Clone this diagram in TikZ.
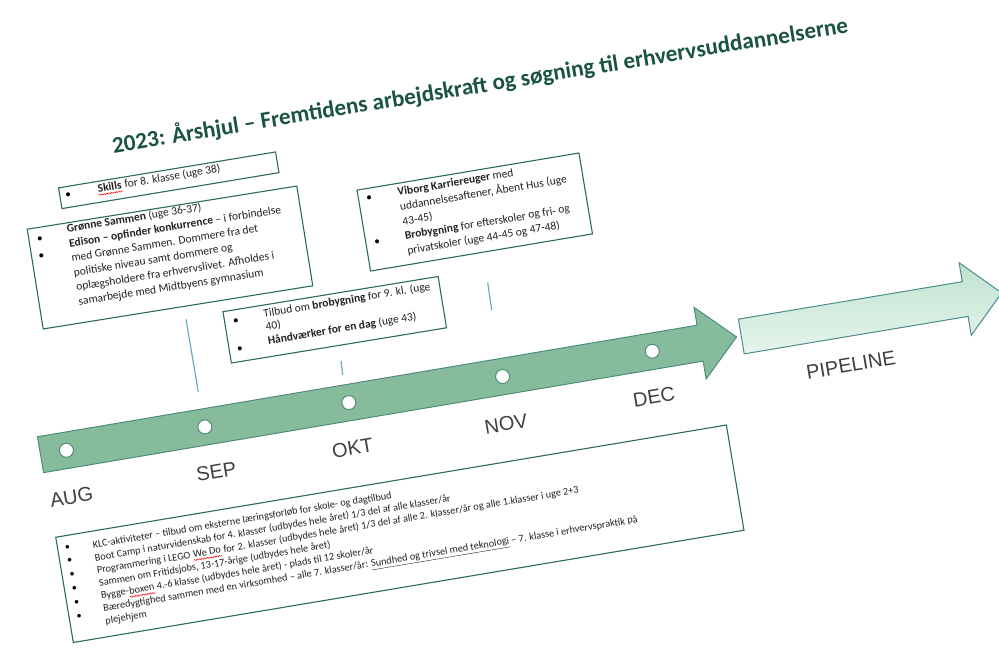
\documentclass[tikz,border=0pt]{standalone}
\usepackage{fontspec}
\usepackage{graphicx}
\setmainfont{Carlito}
\newfontfamily\arialf{Liberation Sans}
\usetikzlibrary{decorations.pathmorphing}
\definecolor{boxc}{RGB}{45,105,95}
\definecolor{arrowfill}{RGB}{134,187,156}
\definecolor{arrowdraw}{RGB}{80,140,125}
\definecolor{titlec}{RGB}{26,84,64}
\definecolor{monthc}{RGB}{64,64,64}
\definecolor{txtc}{RGB}{34,34,34}
\definecolor{linec}{RGB}{110,170,190}
\definecolor{pipetop}{RGB}{192,227,208}
\definecolor{pipebot}{RGB}{230,245,236}
\definecolor{pipedraw}{RGB}{75,140,140}
\tikzset{
  boxframe/.style={draw=boxc, line width=1.1pt, fill=white, inner sep=0pt},
  txt/.style={anchor=west, inner sep=0pt, text height=0.75em, text depth=0.25em, text=txtc, font=\fontsize{11.5}{14}\selectfont},
  smalltxt/.style={txt, font=\fontsize{10.3}{12.8}\selectfont},
  bul/.style={inner sep=0pt, text=black, font=\fontsize{11.5}{14}\selectfont},
  month/.style={inner sep=0pt, text=monthc, font=\arialf\fontsize{20}{24}\selectfont},
  mainarrow/.style={fill=arrowfill, draw=arrowdraw, line width=1pt, line join=miter},
  pipearrow/.style={top color=pipetop, bottom color=pipebot, draw=pipedraw, line width=1pt},
  dot/.style={circle, draw=arrowdraw, fill=white, line width=1pt, minimum size=14pt, inner sep=0pt},
  conn/.style={draw=linec, line width=1.2pt},
  squig/.style={draw=red, line width=0.5pt, decorate, decoration={snake, amplitude=0.6pt, segment length=2.5pt}}
}
\begin{document}
\begin{tikzpicture}[x=1pt,y=-1pt]
\useasboundingbox[fill=white] (0,0) rectangle (999,656);

% title
\node[rotate=9.3, text=titlec, inner sep=0pt] (title) at (480,85)
  {\resizebox{745pt}{!}{\bfseries 2023: Årshjul – Fremtidens arbejdskraft og søgning til erhvervsuddannelserne}};

% connector lines
\coordinate (l1a) at (186,319.3); \coordinate (l1b) at (198.3,391.7);
\coordinate (l2a) at (341,360.7); \coordinate (l2b) at (342.7,375);
\coordinate (l3a) at (487.7,282.7); \coordinate (l3b) at (491.7,310);
\draw[conn] (l1a) -- (l1b);
\draw[conn] (l2a) -- (l2b);
\draw[conn] (l3a) -- (l3b);

% main arrow
\begin{scope}[shift={(40.5,454.7)}, rotate=9.6]
  \draw[mainarrow] (0,-18.2) -- (669,-18.2) -- (669,-36.3) -- (706,0) -- (669,36.3) -- (669,18.2) -- (0,18.2) -- cycle;
  \node[dot] (dAUG) at (26.3,0) {};
  \node[dot] (dSEP) at (166.7,0) {};
  \node[dot] (dOKT) at (312.7,0) {};
  \node[dot] (dNOV) at (468.7,0) {};
  \node[dot] (dDEC) at (620.5,0) {};
\end{scope}

% pipeline arrow
\begin{scope}[shift={(741.3,336.5)}, rotate=9.5]
  \draw[pipearrow] (0,-17.6) -- (227,-17.6) -- (227,-36.8) -- (264,0) -- (227,36.8) -- (227,17.6) -- (0,17.6) -- cycle;
\end{scope}
\node[month, rotate=9.5] (pipe) at (851,365) {PIPELINE};

% month labels
\node[month, rotate=9.5] (mAUG) at (71.5,497) {AUG};
\node[month, rotate=9.5] (mSEP) at (216.3,471.7) {SEP};
\node[month, rotate=9.5] (mOKT) at (352.5,448) {OKT};
\node[month, rotate=9.5] (mNOV) at (506,424) {NOV};
\node[month, rotate=9.5] (mDEC) at (654,397) {DEC};

% Skills box
\begin{scope}[shift={(168.75,180.25)}, rotate=9.4, transform shape]
  \node[boxframe, minimum width=220pt, minimum height=21pt] (skills) at (0,0) {};
  \node[bul] (sb1) at (-101.5,-1.9) {•};
  \node[txt] (s1a) at (-71.6,-2) {\textbf{Skills}};
  \node[txt] (s1b) at (s1a.east) {\kern\fontdimen2\font for 8. klasse (uge 38)};
  \draw[squig] (s1a.south west) -- (s1a.south east);
\end{scope}

% Groenne box
\begin{scope}[shift={(170,257.5)}, rotate=9.1, transform shape]
  \node[boxframe, minimum width=273pt, minimum height=101pt] (groenne) at (0,0) {};
  \node[bul] (gb1) at (-125.6,-37.9) {•};
  \node[bul] (gb2) at (-126.6,-21.1) {•};
  \node[txt] (g1) at (-97.5,-43.5) {\textbf{Grønne Sammen} (uge 36-37)};
  \node[txt] (g2) at (-97.5,-28.7) {\textbf{Edison – opfinder konkurrence} – i forbindelse};
  \node[txt] (g3) at (-97.5,-13.9) {med Grønne Sammen. Dommere fra det};
  \node[txt] (g4) at (-97.5,0.9) {politiske niveau samt dommere og};
  \node[txt] (g5) at (-97.5,15.7) {oplægsholdere fra erhvervslivet. Afholdes i};
  \node[txt] (g6) at (-97.5,30.5) {samarbejde med Midtbyens gymnasium};
\end{scope}

% Viborg box
\begin{scope}[shift={(474.75,212)}, rotate=9.5, transform shape]
  \node[boxframe, minimum width=225pt, minimum height=82pt] (viborg) at (0,0) {};
  \node[bul] (vb1) at (-101.7,-30.9) {•};
  \node[bul] (vb2) at (-101.2,14.2) {•};
  \node[txt] (v1) at (-73,-31.2) {\textbf{Viborg Karriereuger} med};
  \node[txt] (v2) at (-73,-16.35) {uddannelsesaftener, Åbent Hus (uge};
  \node[txt] (v3) at (-73,-1.5) {43-45)};
  \node[txt] (v4) at (-73,13.35) {\textbf{Brobygning} for efterskoler og fri- og};
  \node[txt] (v5) at (-73,28.2) {privatskoler (uge 44-45 og 47-48)};
\end{scope}

% Tilbud box
\begin{scope}[shift={(334.75,319.75)}, rotate=9.3, transform shape]
  \node[boxframe, minimum width=218pt, minimum height=52pt] (tilbud) at (0,0) {};
  \node[bul] (tb1) at (-97.8,-14) {•};
  \node[bul] (tb2) at (-98.3,13.9) {•};
  \node[txt] (t1) at (-69.5,-16.2) {Tilbud om \textbf{brobygning} for 9. kl. (uge};
  \node[txt] (t2) at (-69.5,-2.65) {40)};
  \node[txt] (t3) at (-69.5,10.9) {\textbf{Håndværker for en dag} (uge 43)};
\end{scope}

% bottom box
\begin{scope}[shift={(399.85,533.75)}, rotate=9.5, transform shape]
  \node[boxframe, minimum width=680pt, minimum height=106.7pt] (bottom) at (0,0) {};
  \foreach \k in {0,...,5} {
    \node[bul, font=\fontsize{10.3}{12.8}\selectfont] (bb\k) at (-330,-41.5+14.1*\k) {•};
  }
  \node[smalltxt] (b1) at (-305,-38.7) {KLC-aktiviteter – tilbud om eksterne læringsforløb for skole- og dagtilbud};
  \node[smalltxt] (b2) at (-305,-25.87) {Boot Camp i naturvidenskab for 4. klasser (udbydes hele året) 1/3 del af alle klasser/år};
  \node[smalltxt] (b3a) at (-305,-13.04) {Programmering i LEGO};
  \node[smalltxt] (b3b) at ([xshift=2.4pt]b3a.east) {We Do};
  \node[smalltxt] (b3c) at (b3b.east) {\kern\fontdimen2\font for 2. klasser (udbydes hele året) 1/3 del af alle 2. klasser/år og alle 1.klasser i uge 2+3};
  \draw[squig] (b3b.south west) -- (b3b.south east);
  \node[smalltxt] (b4) at (-305,-0.21) {Sammen om Fritidsjobs, 13-17-årige (udbydes hele året)};
  \node[smalltxt] (b5a) at (-305,12.62) {Bygge-};
  \node[smalltxt] (b5b) at (b5a.east) {boxen};
  \node[smalltxt] (b5c) at (b5b.east) {\kern\fontdimen2\font 4.-6 klasse (udbydes hele året) - plads til 12 skoler/år};
  \draw[squig] (b5b.south west) -- (b5b.south east);
  \node[smalltxt] (b6) at (-305,25.45) {Bæredygtighed sammen med en virksomhed – alle 7. klasser/år: \underline{Sundhed og trivsel med teknologi} – 7. klasse i erhvervspraktik på};
  \node[smalltxt] (b7) at (-305,38.28) {plejehjem};
\end{scope}
\end{tikzpicture}
\end{document}
